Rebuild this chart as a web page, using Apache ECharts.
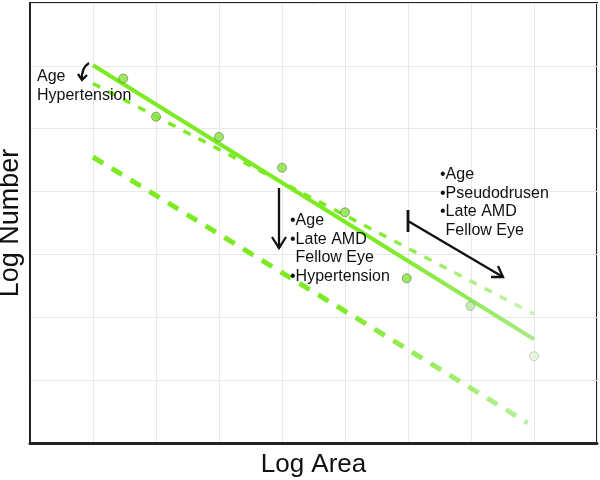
<!DOCTYPE html>
<html>
<head>
<meta charset="utf-8">
<script src="https://cdn.jsdelivr.net/npm/echarts@6/dist/echarts.min.js"></script>
<style>
  html, body { margin: 0; padding: 0; background: #fff; }
  #tu { width: 600px; height: 480px; }
</style>
</head>
<body>
<div id="tu"></div>
<script>
// measured points (log area, log number)
var pointX = [1.48, 2, 3, 4, 5, 5.98, 6.99, 8];
var pointY = [5.80, 5.19, 4.87, 4.38, 3.67, 2.62, 2.18, 1.38];

// fitted lines: [start, end]
var solidLine = [[1, 6.01], [8, 1.65]];
var upperDash = [[1, 5.72], [8, 2.05]];
var lowerDash = [[1, 4.55], [7.9, 0.32]];

var leftNote = ["Age", "Hypertension"];
var middleNote = ["\u2022Age", "\u2022Late AMD", "Fellow Eye", "\u2022Hypertension"];
var rightNote = ["\u2022Age", "\u2022Pseudodrusen", "\u2022Late AMD", "Fellow Eye"];

var pointColors = ["#84e23c", "#84e23c", "#84e23c", "#84e23c", "#84e23c", "#84e23c", "#b5e59c", "#e3f3dc"];
var pointBorders = ["#4f6b3c", "#4f6b3c", "#4f6b3c", "#4f6b3c", "#4f6b3c", "#4f6b3c", "#8a9a80", "#a5aca0"];

var myChart = echarts.init(document.getElementById("tu"));

function fade(stop, light) {
  return new echarts.graphic.LinearGradient(0, 0, 1, 0, [
    { offset: 0, color: "#7deb23" },
    { offset: stop, color: "#7deb23" },
    { offset: 1, color: light }
  ]);
}

var scatterData = pointX.map(function (x, i) {
  return {
    value: [x, pointY[i]],
    itemStyle: { color: pointColors[i], borderColor: pointBorders[i], borderWidth: 0.7 }
  };
});

var font = "Liberation Sans, Arial, sans-serif";
var textStyle = { fill: "#111", fontSize: 16, fontFamily: font };

function noteLines(lines, x, y, step) {
  return lines.map(function (t, i) {
    var indent = t.charAt(0) === "\u2022" || lines === leftNote ? 0 : 5.6;
    return {
      type: "text",
      left: x + indent,
      top: y + i * step,
      z: 100,
      style: Object.assign({ text: t }, textStyle)
    };
  });
}

var arrowStyle = { stroke: "#111", lineWidth: 2.3, fill: null };

var graphics = []
  .concat(noteLines(leftNote, 37, 69, 19))
  .concat(noteLines(middleNote, 290, 213, 18.4))
  .concat(noteLines(rightNote, 440, 167, 18.4))
  .concat([
    // curved arrow near the start
    { type: "bezierCurve", z: 100, shape: { x1: 89, y1: 63, x2: 82, y2: 80, cpx1: 81, cpy1: 68 }, style: arrowStyle },
    { type: "polyline", z: 100, shape: { points: [[78, 74], [82, 80], [87, 75]] }, style: arrowStyle },
    // vertical arrow
    { type: "line", z: 100, shape: { x1: 279, y1: 188, x2: 279, y2: 248 }, style: arrowStyle },
    { type: "polyline", z: 100, shape: { points: [[272, 237], [279, 248], [286, 237]] }, style: arrowStyle },
    // T-bar with diagonal arrow
    { type: "line", z: 100, shape: { x1: 408, y1: 210, x2: 408, y2: 232 }, style: { stroke: "#111", lineWidth: 2.8 } },
    { type: "line", z: 100, shape: { x1: 408, y1: 221, x2: 503, y2: 277 }, style: arrowStyle },
    { type: "polyline", z: 100, shape: { points: [[491, 277], [503, 277], [498, 266]] }, style: arrowStyle }
  ]);

var option = {
  animation: false,
  grid: {
    left: 30,
    right: 3,
    top: 3,
    bottom: 37,
    outerBoundsMode: "none",
    show: true,
    borderColor: "#222",
    borderWidth: 2
  },
  xAxis: {
    type: "value",
    min: 0,
    max: 9,
    interval: 1,
    name: "Log Area",
    nameLocation: "middle",
    nameGap: 9,
    nameTextStyle: { fontSize: 26, color: "#111", fontFamily: font, verticalAlign: "top" },
    axisLine: { show: true, lineStyle: { color: "#222", width: 3 } },
    axisTick: { show: false },
    axisLabel: { show: false },
    splitLine: { lineStyle: { color: "#e8e8e8", width: 1 } }
  },
  yAxis: {
    type: "value",
    min: 0,
    max: 7,
    interval: 1,
    name: "Log Number",
    nameLocation: "middle",
    nameGap: 6,
    nameTextStyle: { fontSize: 27, color: "#111", fontFamily: font },
    axisLine: { show: true, lineStyle: { color: "#222", width: 2 } },
    axisTick: { show: false },
    axisLabel: { show: false },
    splitLine: { lineStyle: { color: "#e8e8e8", width: 1 } }
  },
  series: [
    {
      type: "line",
      data: lowerDash,
      symbol: "none",
      lineStyle: { width: 5, type: [12, 10], color: fade(0.55, "#b8f0a0") },
      z: 2
    },
    {
      type: "line",
      data: upperDash,
      symbol: "none",
      lineStyle: { width: 3.5, type: [8, 9], color: fade(0.6, "#c8f2b5") },
      z: 2
    },
    {
      type: "line",
      data: solidLine,
      symbol: "none",
      lineStyle: { width: 4, color: fade(0.65, "#a8ea85") },
      z: 3
    },
    {
      type: "scatter",
      data: scatterData,
      symbolSize: 9,
      z: 4
    }
  ],
  graphic: graphics
};

myChart.setOption(option);
</script>
</body>
</html>
